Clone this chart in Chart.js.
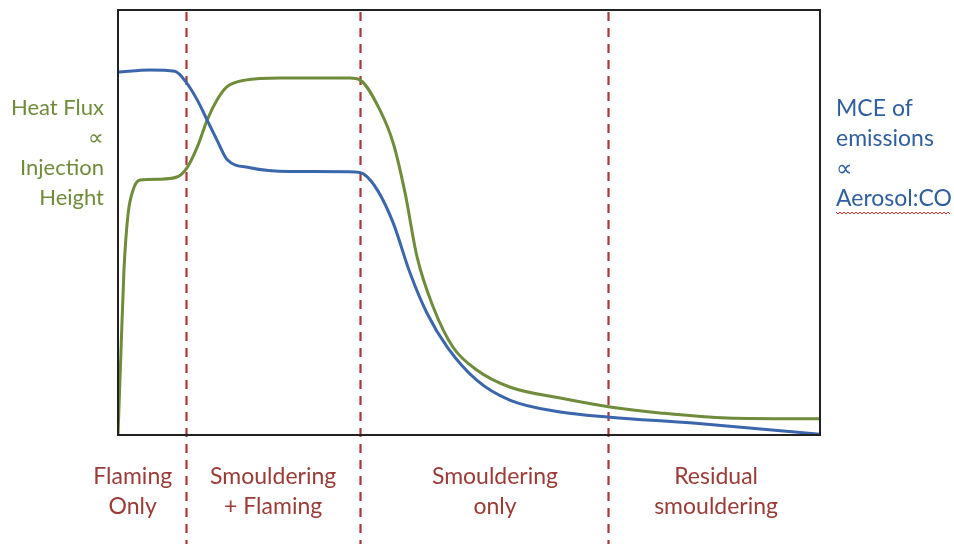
<!DOCTYPE html>
<html>
<head>
<meta charset="utf-8">
<script src="https://cdn.jsdelivr.net/npm/chart.js@4.4.0/dist/chart.umd.min.js"></script>
<style>
  html, body { margin: 0; padding: 0; background: #fff; }
  #wrap { width: 954px; height: 544px; }
</style>
</head>
<body>
<div id="wrap"><canvas id="chart" width="954" height="544"></canvas></div>
<script>
// ---- data (arbitrary 0-100 units) ----
const mceX = [0, 4.6, 8.1, 9.8, 11.3, 12.7, 14.1, 15.5, 18.8, 24.5, 33.8, 35.0, 37.0, 39.2, 41.6, 44.0, 46.9, 51.1, 55.8, 63.0, 70.1, 81.9, 100];
const mceY = [85.4, 85.9, 85.6, 82.8, 78.8, 74.1, 69.4, 64.9, 62.9, 62.0, 61.9, 61.4, 57.5, 49.9, 38.1, 28.7, 20.7, 12.9, 8.2, 5.4, 4.2, 2.8, 0.2];

const heatX = [0, 0.43, 0.85, 1.42, 2.14, 3.13, 5.98, 8.4, 9.8, 11.3, 12.7, 14.1, 15.5, 18.1, 23.1, 33.0, 34.5, 37.3, 39.2, 40.9, 42.6, 44.9, 47.7, 51.1, 55.8, 63.0, 70.1, 77.2, 86.8, 100];
const heatY = [0, 20, 38.8, 51.8, 57.6, 60.0, 60.2, 60.7, 62.8, 67.8, 74.1, 78.8, 81.9, 83.5, 84.0, 84.0, 83.5, 76.5, 68.7, 56.9, 41.9, 30.1, 20.7, 15.3, 11.3, 8.7, 6.6, 5.2, 4.0, 3.8];

// phase boundaries (dashed lines) and phase labels
const phaseBounds = [9.7, 34.5, 69.8];
const phaseLabelX = [2.1, 22.1, 53.7, 85.2];
const phaseLabels = [
    ['Flaming', 'Only'],
    ['Smouldering', '+ Flaming'],
    ['Smouldering', 'only'],
    ['Residual', 'smouldering']
];

const leftLabel = ['Heat Flux', '\u221D', 'Injection', 'Height'];
const rightLabel = ['MCE of', 'emissions', '\u221D', 'Aerosol:CO'];

const GREEN = '#6f8c3b';
const BLUE = '#3c66ab';
const RED = '#a8383a';
const FAMILY = 'Lato, "Open Sans", sans-serif';

function toPoints(xs, ys) {
    return xs.map((x, i) => ({ x: x, y: ys[i] }));
}

// frame, dashed phase lines and all the labels
const annotations = {
    id: 'annotations',
    beforeDatasetsDraw(chart) {
        const ctx = chart.ctx;
        const xs = chart.scales.x;
        const area = chart.chartArea;
        ctx.save();
        ctx.strokeStyle = RED;
        ctx.lineWidth = 2.2;
        ctx.setLineDash([9, 7]);
        phaseBounds.forEach(b => {
            const px = Math.round(xs.getPixelForValue(b)) + 0.5;
            ctx.beginPath();
            ctx.moveTo(px, area.top + 2);
            ctx.lineTo(px, chart.height);
            ctx.stroke();
        });
        ctx.restore();
    },
    afterDraw(chart) {
        const ctx = chart.ctx;
        const xs = chart.scales.x;
        const area = chart.chartArea;
        ctx.save();
        // box
        ctx.strokeStyle = '#222';
        ctx.lineWidth = 2;
        ctx.strokeRect(area.left, area.top, area.right - area.left, area.bottom - area.top);

        ctx.textBaseline = 'middle';

        // left label
        ctx.font = '22px ' + FAMILY;
        ctx.fillStyle = GREEN;
        ctx.textAlign = 'right';
        leftLabel.forEach((t, i) => ctx.fillText(t, area.left - 14, 108 + i * 30));

        // right label
        ctx.font = '23px ' + FAMILY;
        ctx.fillStyle = '#2f5f9e';
        ctx.textAlign = 'left';
        rightLabel.forEach((t, i) => ctx.fillText(t, area.right + 16, 109 + i * 30));

        // spell-check squiggle under the last word
        const last = rightLabel[rightLabel.length - 1];
        const w = ctx.measureText(last).width;
        const x0 = area.right + 16, yb = 109 + 3 * 30 + 13;
        ctx.strokeStyle = '#e0302a';
        ctx.lineWidth = 1;
        ctx.beginPath();
        for (let x = 0; x <= w; x += 2) {
            const y = yb + ((x / 2) % 2 === 0 ? 0 : 2);
            if (x === 0) ctx.moveTo(x0 + x, y); else ctx.lineTo(x0 + x, y);
        }
        ctx.stroke();

        // phase labels
        ctx.fillStyle = '#9a3b36';
        ctx.textAlign = 'center';
        phaseLabels.forEach((lines, i) => {
            const px = xs.getPixelForValue(phaseLabelX[i]);
            lines.forEach((t, j) => ctx.fillText(t, px, 477 + j * 30));
        });
        ctx.restore();
    }
};

new Chart(document.getElementById('chart'), {
    type: 'line',
    data: {
        datasets: [
            {
                label: 'MCE of emissions',
                data: toPoints(mceX, mceY),
                borderColor: BLUE,
                borderWidth: 3,
                pointRadius: 0,
                cubicInterpolationMode: 'monotone',
                fill: false
            },
            {
                label: 'Heat Flux',
                data: toPoints(heatX, heatY),
                borderColor: GREEN,
                borderWidth: 3,
                pointRadius: 0,
                cubicInterpolationMode: 'monotone',
                fill: false
            }
        ]
    },
    options: {
        responsive: false,
        animation: false,
        layout: { padding: { left: 118, right: 134, top: 10, bottom: 109 } },
        plugins: {
            legend: { display: false },
            tooltip: { enabled: false }
        },
        scales: {
            x: { type: 'linear', min: 0, max: 100, display: false },
            y: { min: 0, max: 100, display: false }
        }
    },
    plugins: [annotations]
});
</script>
</body>
</html>
